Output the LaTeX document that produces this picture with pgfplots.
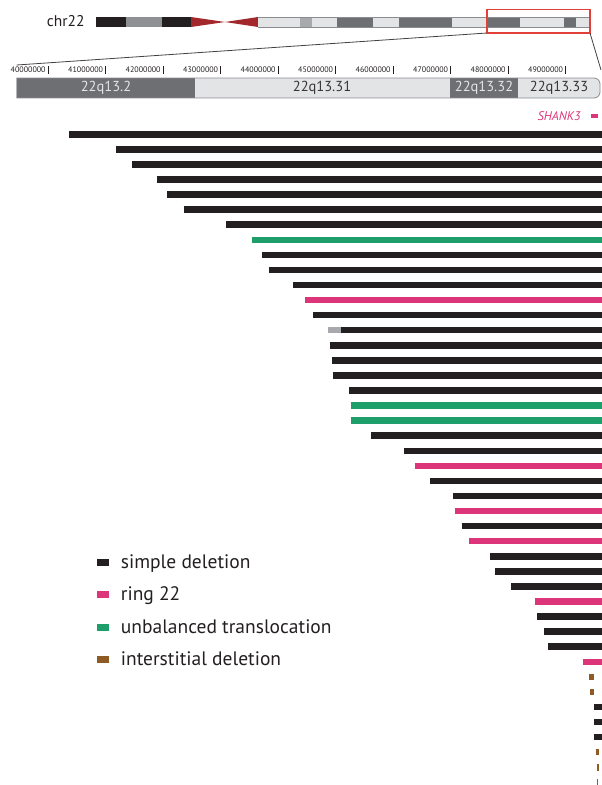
\documentclass[border=0pt]{standalone}
\usepackage{pgfplots}
\usepackage{pgfplotstable}
\pgfplotsset{compat=1.18}
\usepackage{fontspec}
\setmainfont{PT Sans}

\definecolor{cSimple}{HTML}{231F20}
\definecolor{cRing}{HTML}{DD3579}
\definecolor{cUnbal}{HTML}{1E9E6B}
\definecolor{cInter}{HTML}{8E5B24}
\definecolor{cUncert}{HTML}{A7A9AC}
\definecolor{bandDark}{HTML}{6D6F72}
\definecolor{bandLight}{HTML}{E2E4E6}
\definecolor{bandMid}{HTML}{8E9194}
\definecolor{bandEdge}{HTML}{8A8C8F}
\definecolor{cenRed}{HTML}{A3282B}
\definecolor{boxRed}{HTML}{E2413A}

% each deleted segment: start and end (Mb) on the patient's row (top = 1),
% segments separated by a nan row
\pgfplotstableread{
x y
40.365 1
49.63 1
nan nan
41.172 2
49.63 2
nan nan
41.461 3
49.63 3
nan nan
41.890 4
49.63 4
nan nan
42.070 5
49.63 5
nan nan
42.355 6
49.63 6
nan nan
43.099 7
49.63 7
nan nan
43.722 9
49.63 9
nan nan
43.833 10
49.63 10
nan nan
44.252 11
49.63 11
nan nan
44.603 13
49.63 13
nan nan
45.085 14
49.63 14
nan nan
44.904 15
49.63 15
nan nan
44.939 16
49.63 16
nan nan
44.943 17
49.63 17
nan nan
45.235 18
49.63 18
nan nan
45.617 21
49.63 21
nan nan
46.186 22
49.63 22
nan nan
46.643 24
49.63 24
nan nan
47.043 25
49.63 25
nan nan
47.190 27
49.63 27
nan nan
47.687 29
49.63 29
nan nan
47.769 30
49.63 30
nan nan
48.052 31
49.63 31
nan nan
48.499 33
49.63 33
nan nan
48.626 34
49.63 34
nan nan
48.690 35
49.63 35
nan nan
49.496 39
49.63 39
nan nan
49.496 40
49.63 40
nan nan
49.496 41
49.63 41
}\simpledel

\pgfplotstableread{
x y
44.470 12
49.63 12
nan nan
46.372 23
49.63 23
nan nan
47.078 26
49.63 26
nan nan
47.322 28
49.63 28
nan nan
48.473 32
49.63 32
nan nan
49.304 36
49.63 36
}\ringdel

\pgfplotstableread{
x y
43.551 8
49.63 8
nan nan
45.259 19
49.63 19
nan nan
45.259 20
49.63 20
}\unbaldel

\pgfplotstableread{
x y
49.409 37
49.490 37
nan nan
49.426 38
49.485 38
nan nan
49.520 42
49.572 42
nan nan
49.537 43
49.572 43
nan nan
49.543 44
49.565 44
}\interdel

\pgfplotstableread{
x y
44.859 14
45.085 14
}\uncertain

\pgfplotsset{
  segbar/.style={color=#1, line width=6.5pt, line cap=butt, mark=none,
    unbounded coords=jump},
}

\begin{document}
\begin{tikzpicture}[x=1pt,y=1pt]
\useasboundingbox (0,0) rectangle (602,785);

% ---------- ideogram, zoom band and legend (pixel-like units) ----------
\begin{axis}[at={(0,0)}, anchor=south west, scale only axis,
  width=602pt, height=785pt, xmin=0, xmax=602, ymin=0, ymax=785,
  y dir=reverse, hide axis, clip=false]
  \node[anchor=base west, font=\fontsize{15.5}{16}\selectfont, text=cSimple, inner sep=0]
    at (axis cs:46.7,26.7) {chr22};
  % p arm
  \fill[cSimple] (axis cs:96,17) rectangle (axis cs:126,27);
  \fill[bandMid] (axis cs:126,17) rectangle (axis cs:161.7,27);
  \fill[cSimple] (axis cs:161.7,17) rectangle (axis cs:191,27);
  % centromere
  \fill[cenRed] (axis cs:191,17) -- (axis cs:225,22) -- (axis cs:191,27) -- cycle;
  \fill[cenRed] (axis cs:258,17) -- (axis cs:225,22) -- (axis cs:258,27) -- cycle;
  % q arm
  \fill[bandLight] (axis cs:258,17) rectangle (axis cs:590,27);
  \fill[cUncert] (axis cs:300,17) rectangle (axis cs:312,27);
  \fill[bandDark] (axis cs:337,17) rectangle (axis cs:373,27);
  \fill[bandDark] (axis cs:399,17) rectangle (axis cs:452,27);
  \fill[bandDark] (axis cs:487,17) rectangle (axis cs:520,27);
  \fill[bandDark] (axis cs:564,17) rectangle (axis cs:576,27);
  \draw[bandEdge, line width=0.9pt] (axis cs:258,17) -- (axis cs:590,17);
  \draw[bandEdge, line width=0.7pt] (axis cs:258,27) -- (axis cs:590,27);
  % zoom box and guide lines
  \draw[boxRed, line width=1.1pt] (axis cs:487,9.5) rectangle (axis cs:590,33);
  \draw[cSimple!85, line width=0.8pt] (axis cs:487,33) -- (axis cs:16.7,65);
  \draw[cSimple!85, line width=0.8pt] (axis cs:590,33) -- (axis cs:601,70);
  % zoomed band bar
  \fill[bandDark] (axis cs:16.7,78) rectangle (axis cs:195,98);
  \fill[bandLight] (axis cs:195,78) rectangle (axis cs:450,98);
  \fill[bandDark] (axis cs:450,78) rectangle (axis cs:518,98);
  \fill[bandLight] (axis cs:518,78) [rounded corners=6pt]-- (axis cs:600,78)
     -- (axis cs:600,98) [sharp corners]-- (axis cs:518,98) -- cycle;
  \draw[bandEdge, line width=0.8pt] (axis cs:16.7,78) [rounded corners=6pt]-- (axis cs:600,78)
     -- (axis cs:600,98) [sharp corners]-- (axis cs:16.7,98) -- cycle;
  \begin{scope}[font=\fontsize{14.5}{15}\selectfont, inner sep=0]
    \node[text=bandLight] at (axis cs:106,88) {22q13.2};
    \node[text=cSimple!90] at (axis cs:322,88) {22q13.31};
    \node[text=bandLight] at (axis cs:484,88) {22q13.32};
    \node[text=cSimple!90] at (axis cs:559,88) {22q13.33};
  \end{scope}
  % legend
  \begin{scope}[font=\fontsize{19.5}{21}\selectfont, text=cSimple]
    \fill[cSimple] (axis cs:97.3,558.5) rectangle (axis cs:109.3,565.5);
    \node[anchor=base west, inner sep=0] at (axis cs:120.7,568) {simple deletion};
    \fill[cRing] (axis cs:97.3,591) rectangle (axis cs:109.3,598);
    \node[anchor=base west, inner sep=0] at (axis cs:120.7,600.5) {ring 22};
    \fill[cUnbal] (axis cs:97.3,623.5) rectangle (axis cs:109.3,630.5);
    \node[anchor=base west, inner sep=0] at (axis cs:120.7,633) {unbalanced translocation};
    \fill[cInter] (axis cs:97.3,656) rectangle (axis cs:109.3,663);
    \node[anchor=base west, inner sep=0] at (axis cs:120.7,665.5) {interstitial deletion};
  \end{scope}
\end{axis}

% ---------- deletions: x in Mb, y = patient row ----------
\begin{axis}[at={(0,0)}, anchor=south west, scale only axis,
  width=602pt, height=785pt, xmin=39.16, xmax=49.63, ymin=-7.912, ymax=44.178,
  y dir=reverse, hide axis, clip=false]
  \addplot[segbar=cUncert] table {\uncertain};
  \addplot[segbar=cSimple] table {\simpledel};
  \addplot[segbar=cRing] table {\ringdel};
  \addplot[segbar=cUnbal] table {\unbaldel};
  \addplot[segbar=cInter] table {\interdel};
  % SHANK3
  \addplot[color=cRing, line width=3.5pt, line cap=butt, mark=none] coordinates {(49.447,-0.214) (49.560,-0.214)};
  \node[anchor=east, inner sep=0, text=cRing, font=\itshape\fontsize{12.5}{13}\selectfont]
    at (axis cs:49.261,-0.214) {SHANK3};
  % Mb scale
  \pgfplotsinvokeforeach{40,...,49}{
    \draw[cSimple, line width=0.7pt] (axis cs:#1,-3.53) -- (axis cs:#1,-3.0);
    \node[anchor=east, inner sep=0, xshift=-2.5pt, text=cSimple,
      font=\fontsize{8}{9}\selectfont] at (axis cs:#1,-3.267) {#1000000};
  }
\end{axis}
\end{tikzpicture}
\end{document}
